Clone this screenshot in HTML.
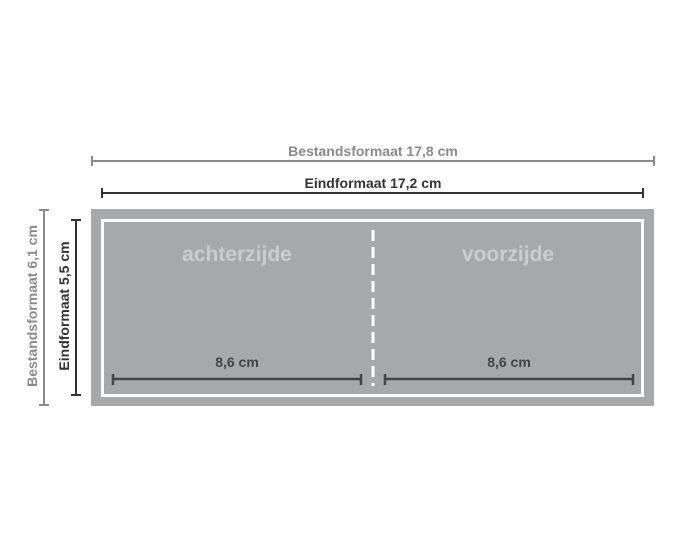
<!DOCTYPE html>
<html><head><style>
body{margin:0;background:#fff;width:681px;height:551px;overflow:hidden}
svg{display:block}
text{font-family:"Liberation Sans",sans-serif}
</style></head><body>
<svg width="681" height="551" viewBox="0 0 681 551">
<rect x="91" y="209" width="563" height="197" fill="#a7a8aa"/>
<rect x="102.5" y="220.5" width="540" height="175" fill="none" stroke="#fff" stroke-width="3"/>
<line x1="373" y1="230" x2="373" y2="386" stroke="#fff" stroke-width="3" stroke-dasharray="11,6"/>
<text x="237" y="261" font-size="21" fill="#cbcccd" text-anchor="middle" font-weight="bold">achterzijde</text>
<text x="508" y="261" font-size="21" fill="#cbcccd" text-anchor="middle" font-weight="bold">voorzijde</text>
<g stroke="#8a8a8a" stroke-width="2">
<line x1="92" y1="161" x2="654" y2="161"/>
<line x1="92" y1="156" x2="92" y2="166"/><line x1="654" y1="156" x2="654" y2="166"/>
<line x1="44" y1="210" x2="44" y2="405"/>
<line x1="39" y1="210" x2="49" y2="210"/><line x1="39" y1="405" x2="49" y2="405"/>
</g>
<text x="373" y="156" font-size="14" fill="#8a8a8a" text-anchor="middle" font-weight="bold">Bestandsformaat 17,8 cm</text>
<g stroke="#333" stroke-width="2">
<line x1="102" y1="193" x2="643" y2="193"/>
<line x1="102" y1="188" x2="102" y2="198"/><line x1="643" y1="188" x2="643" y2="198"/>
<line x1="76" y1="220" x2="76" y2="395"/>
<line x1="71" y1="220" x2="81" y2="220"/><line x1="71" y1="395" x2="81" y2="395"/>
</g>
<text x="373" y="188" font-size="14" fill="#333" text-anchor="middle" font-weight="bold">Eindformaat 17,2 cm</text>
<text transform="translate(37,306) rotate(-90)" font-size="14" fill="#8a8a8a" text-anchor="middle" font-weight="bold">Bestandsformaat 6,1 cm</text>
<text transform="translate(69,306) rotate(-90)" font-size="14" fill="#333" text-anchor="middle" font-weight="bold">Eindformaat 5,5 cm</text>
<g stroke="#444" stroke-width="2.5">
<line x1="113" y1="379" x2="361" y2="379"/>
<line x1="113" y1="374" x2="113" y2="385"/><line x1="361" y1="374" x2="361" y2="385"/>
<line x1="385" y1="379" x2="633" y2="379"/>
<line x1="385" y1="374" x2="385" y2="385"/><line x1="633" y1="374" x2="633" y2="385"/>
</g>
<text x="237" y="367" font-size="14" fill="#444" text-anchor="middle" font-weight="bold">8,6 cm</text>
<text x="509" y="367" font-size="14" fill="#444" text-anchor="middle" font-weight="bold">8,6 cm</text>
</svg>
</body></html>
